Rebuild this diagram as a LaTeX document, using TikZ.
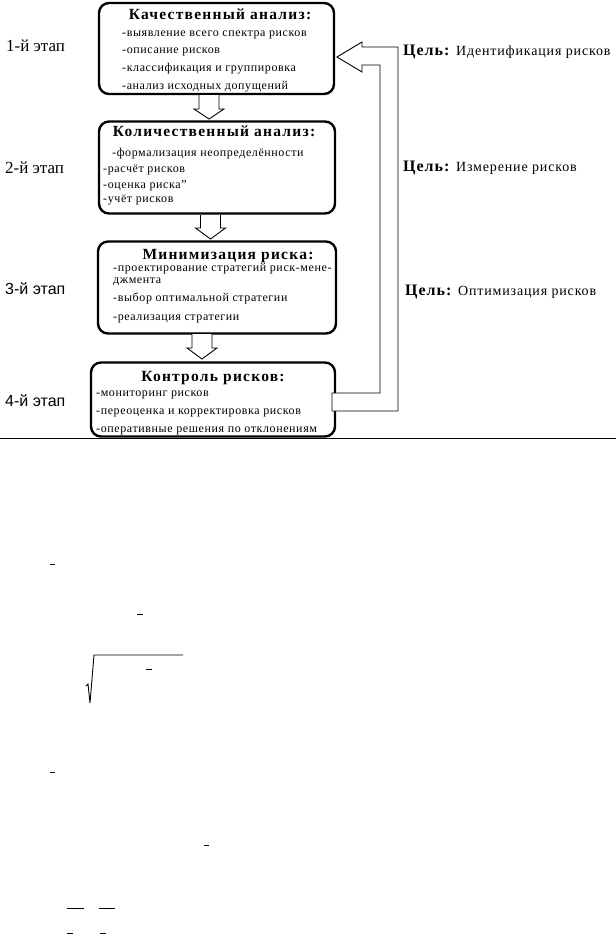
\documentclass[tikz,border=0pt]{standalone}
\usepackage{fontspec}
\setmainfont{Liberation Serif}
\newfontfamily\stageSans{Liberation Sans}
\newfontfamily\itemFont[LetterSpace=5]{Liberation Serif}
\newfontfamily\titleFont[LetterSpace=8]{Liberation Serif}
\newfontfamily\goalFont[LetterSpace=6]{Liberation Serif}
\newcommand{\stageArrow}[4]{\draw[thinline, fill=white] (#1-10,#2) -- (#1-10,#3) -- (#1-15,#3) -- (#1,#4) -- (#1+15,#3) -- (#1+10,#3) -- (#1+10,#2);}

\begin{document}
\begin{tikzpicture}[x=1pt,y=-1pt,
  stagebox/.style={draw, line width=2.4pt, rounded corners=10pt, inner sep=0pt},
  thinline/.style={line width=0.9pt},
  boxtitle/.style={anchor=base, inner sep=0pt, font=\titleFont\bfseries\fontsize{15.5}{15.5}\selectfont},
  item/.style={anchor=base west, inner sep=0pt, font=\itemFont\fontsize{12}{12}\selectfont},
  stagelabel/.style={anchor=base west, inner sep=0pt, font=\fontsize{17}{17}\selectfont},
  goal/.style={anchor=base west, inner sep=0pt, font=\goalFont\fontsize{14}{14}\selectfont}]
\useasboundingbox (0,0) rectangle (616,935);
\node[stagebox, minimum width=235pt, minimum height=91pt] (qual) at (216.5,48.5) {};
\node[stagebox, minimum width=236pt, minimum height=92pt] (quant) at (217,167.5) {};
\node[stagebox, minimum width=238pt, minimum height=92pt] (minim) at (217,287.5) {};
\node[stagebox, minimum width=244pt, minimum height=74pt] (control) at (213,399.5) {};
\node[boxtitle] (qualT) at (220,19) {Качественный анализ:};
\node[item] (qualA) at (122,36) {-выявление всего спектра рисков};
\node[item] (qualB) at (122,53) {-описание рисков};
\node[item] (qualC) at (122,71) {-классификация  и группировка};
\node[item] (qualD) at (122,89) {-анализ исходных допущений};
\node[boxtitle] (quantT) at (214,136) {Количественный анализ:};
\node[item] (quantA) at (112,156) {-формализация неопределённости};
\node[item] (quantB) at (103,172) {-расчёт рисков};
\node[item] (quantC) at (103,188) {-оценка риска”};
\node[item] (quantD) at (103,202) {-учёт  рисков};
\node[boxtitle] (minimT) at (228,259) {Минимизация риска:};
\node[item] (minimA) at (113,271) {-проектирование стратегий риск-мене-};
\node[item] (minimB) at (113,283) {джмента};
\node[item] (minimC) at (113,301) {-выбор оптимальной стратегии};
\node[item] (minimD) at (113,320) {-реализация стратегии};
\node[boxtitle] (controlT) at (213,381) {Контроль рисков:};
\node[item] (controlA) at (96,396) {-мониторинг рисков};
\node[item] (controlB) at (96,414) {-переоценка и корректировка рисков};
\node[item] (controlC) at (96,432) {-оперативные решения по отклонениям};
\node[stagelabel] (st1) at (6,51) {1-й этап};
\node[stagelabel] (st2) at (5,173) {2-й этап};
\node[stagelabel, font=\stageSans\fontsize{16}{16}\selectfont] (st3) at (5,294) {3-й этап};
\node[stagelabel, font=\stageSans\fontsize{16}{16}\selectfont] (st4) at (5,406) {4-й этап};
\node[goal] (goal1) at (403,55) {\textbf{\fontsize{16}{16}\selectfont Цель:} Идентификация рисков};
\node[goal] (goal2) at (403,171) {\textbf{\fontsize{16}{16}\selectfont Цель:} Измерение рисков};
\node[goal] (goal3) at (405,295) {\textbf{\fontsize{16}{16}\selectfont Цель:} Оптимизация рисков};
% arrows between stages
\stageArrow{209}{95}{109}{119}
\stageArrow{210.5}{215}{228}{239}
\stageArrow{202}{334}{348}{359}
% feedback arrow
\draw[thinline, fill=white] (332,411) -- (398,411) -- (398,47) -- (362,47) -- (362,42) -- (337,57) -- (362,72) -- (362,65) -- (380,65) -- (380,393) -- (332,393) -- cycle;
\draw[thinline] (0,438.5) -- (616,438.5);
% leftover formula marks
\draw[thinline] (50,564) -- (55,564);
\draw[thinline] (137,614) -- (143,614);
\draw[thinline] (86,686) -- (88,684) -- (90,703) -- (94,655) -- (183,655);
\draw[thinline] (146,669) -- (152,669);
\draw[thinline] (50,772) -- (55,772);
\draw[thinline] (204,845) -- (209,845);
\draw[thinline] (67,908) -- (84,908);
\draw[thinline] (99,908) -- (115,908);
\draw[thinline] (67,933) -- (73,933);
\draw[thinline] (100,933) -- (106,933);
\end{tikzpicture}
\end{document}
